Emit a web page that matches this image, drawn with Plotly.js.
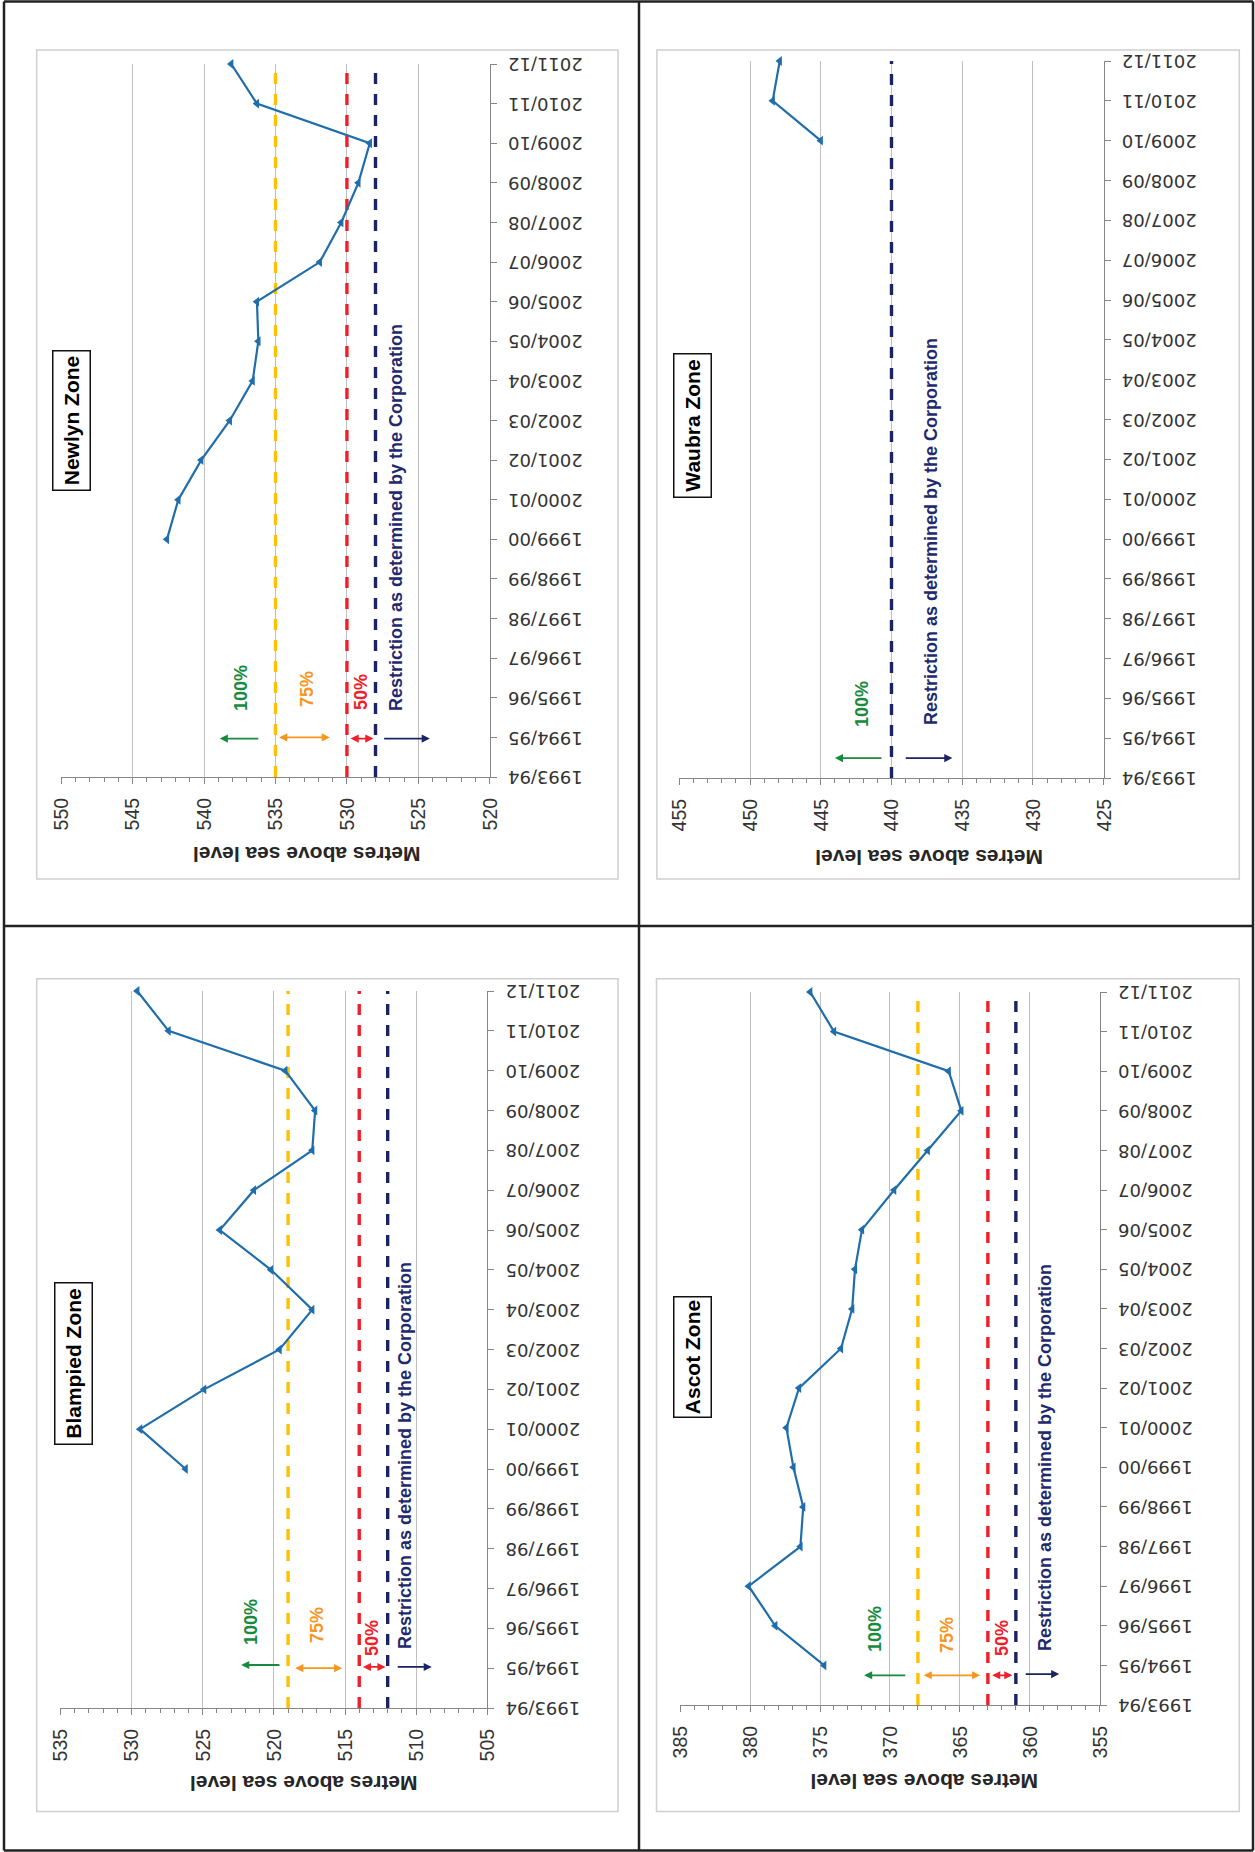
<!DOCTYPE html>
<html>
<head>
<meta charset="utf-8">
<script src="https://cdn.plot.ly/plotly-3.0.1.min.js"></script>
<style>
html,body{margin:0;padding:0;background:#fff;width:1255px;height:1852px;overflow:hidden;}
#wrap{position:absolute;left:0;top:0;width:1852px;height:1255px;transform-origin:0 0;transform:translateY(1852px) rotate(-90deg);}
#chart{width:1852px;height:1255px;}
</style>
</head>
<body>
<div id="wrap"><div id="chart"></div></div>
<script>
// ---------- data ----------
const CATEGORIES = ['1993/94','1994/95','1995/96','1996/97','1997/98','1998/99','1999/00','2000/01','2001/02','2002/03','2003/04','2004/05','2005/06','2006/07','2007/08','2008/09','2009/10','2010/11','2011/12'];

const blampiedYears  = ['1999/00','2000/01','2001/02','2002/03','2003/04','2004/05','2005/06','2006/07','2007/08','2008/09','2009/10','2010/11','2011/12'];
const blampiedLevels = [526.2, 529.4, 524.9, 519.6, 517.3, 520.2, 523.8, 521.4, 517.3, 517.1, 519.2, 527.4, 529.6];
const blampiedLimits = [519, 514, 512];   // 75%, 50%, restriction

const newlynYears  = ['1999/00','2000/01','2001/02','2002/03','2003/04','2004/05','2005/06','2006/07','2007/08','2008/09','2009/10','2010/11','2011/12'];
const newlynLevels = [542.6, 541.8, 540.2, 538.2, 536.6, 536.2, 536.3, 531.9, 530.4, 529.2, 528.4, 536.3, 538.1];
const newlynLimits = [535, 530, 528];

const ascotYears  = ['1994/95','1995/96','1996/97','1997/98','1998/99','1999/00','2000/01','2001/02','2002/03','2003/04','2004/05','2005/06','2006/07','2007/08','2008/09','2009/10','2010/11','2011/12'];
const ascotLevels = [374.7, 378.2, 380.1, 376.4, 376.2, 376.9, 377.4, 376.5, 373.5, 372.7, 372.5, 372.0, 369.7, 367.3, 364.9, 365.8, 374.0, 375.7];
const ascotLimits = [368, 363, 361];

const waubraYears  = ['2009/10','2010/11','2011/12'];
const waubraLevels = [445.0, 448.4, 447.9];
const waubraLimits = [440];

const ZONE_NAMES = ['Blampied Zone','Newlyn Zone','Ascot Zone','Waubra Zone'];
const AXIS_TITLE = 'Metres above sea level';
const RESTRICTION_TEXT = 'Restriction as determined by the Corporation';
const PCT_LABELS = ['100%','75%','50%'];

// ---------- styling ----------
const W = 1852, H = 1255;
const PX = v => v / W, PY = v => 1 - v / H;
const BLUE = '#1f6eab', YELLOW = '#ffc000', RED = '#f0202a', NAVY = '#1b2462', GREEN = '#178a3e', ORANGE = '#f7961e';
const LIMIT_COLORS3 = [YELLOW, RED, NAVY];
const SANS = '"Liberation Sans",Arial,sans-serif';

// panel geometry in (unrotated) pixels: plot area and chart box
const PANELS = [
  {name: ZONE_NAMES[0], years: blampiedYears, levels: blampiedLevels, limits: blampiedLimits, range: [505, 535],
   plot: [144, 861, 60.4, 487.3], box: [40.5, 873.3, 36.7, 618], title: [69, 303.6], label: [488.4, 73.5, 163],
   arrows: {g: [1.08, 519.5, 522.3], o: [1.0, 518.6, 515.2], r: [1.03, 513.85, 512.15], n: [1.03, 511.4, 508.9]},
   pct: [[2.17, 521.6], [2.08, 517.0], [1.75, 513.1]], restr: [1.42, 510.8]},
  {name: ZONE_NAMES[1], years: newlynYears, levels: newlynLevels, limits: newlynLimits, range: [520, 550],
   plot: [1075, 1788, 61.2, 489.8], box: [973, 1802, 36.7, 618], title: [998, 306.6], label: [1431.5, 71.3, 141],
   arrows: {g: [0.97, 536.1, 538.9], o: [1.0, 534.85, 531.2], r: [0.97, 529.85, 528.15], n: [0.97, 527.5, 524.2]},
   pct: [[2.24, 537.4], [2.21, 532.8], [2.14, 529.0]], restr: [1.62, 526.6]},
  {name: ZONE_NAMES[2], years: ascotYears, levels: ascotLevels, limits: ascotLimits, range: [355, 385],
   plot: [147, 860, 680.1, 1099.8], box: [40.5, 873.3, 656.5, 1239.3], title: [70, 924.1], label: [494.8, 692.7, 122],
   arrows: {g: [0.75, 368.8, 371.85], o: [0.75, 367.7, 363.55], r: [0.75, 362.8, 361.25], n: [0.78, 360.4, 357.9]},
   pct: [[1.91, 371.1], [1.76, 365.9], [1.69, 362.0]], restr: [1.31, 358.9]},
  {name: ZONE_NAMES[3], years: waubraYears, levels: waubraLevels, limits: waubraLimits, range: [425, 455],
   plot: [1074, 1791, 679.3, 1103.7], box: [973, 1802, 656.9, 1239.3], title: [995, 928.9], label: [1426.7, 692, 145],
   arrows: {g: [0.5, 440.6, 444.0], n: [0.5, 439.1, 435.7]},
   pct: [[1.86, 442.1]], restr: [1.28, 437.2]}
];

const traces = [], shapes = [], annotations = [];
const layout = {
  width: W, height: H, margin: {l: 0, r: 0, t: 0, b: 0},
  paper_bgcolor: '#fff', plot_bgcolor: 'rgba(0,0,0,0)', showlegend: false,
  font: {family: 'DejaVu Sans', color: '#333'}
};

PANELS.forEach((p, i) => {
  const n = i + 1, sx = n === 1 ? '' : String(n);
  const xa = 'x' + sx, ya = 'y' + sx;
  const [x0, x1, y0, y1] = p.plot;
  layout['xaxis' + sx] = {
    domain: [PX(x0), PX(x1)], anchor: ya, type: 'category', categoryorder: 'array', categoryarray: CATEGORIES,
    range: [0, CATEGORIES.length - 1], showgrid: false, zeroline: false, showline: true, linecolor: '#868686', linewidth: 1,
    ticks: 'outside', ticklen: 6, tickcolor: '#868686', tickangle: -90, ticklabelstandoff: 4,
    tickfont: {family: 'DejaVu Sans', size: 18, color: '#333'}, fixedrange: true
  };
  layout['yaxis' + sx] = {
    domain: [PY(y1), PY(y0)], anchor: xa, range: p.range, dtick: 5, tick0: 0,
    showgrid: true, gridcolor: '#c0c0c0', gridwidth: 1, zeroline: false, showline: true, linecolor: '#868686', linewidth: 1,
    ticks: 'outside', ticklen: 6, tickcolor: '#868686', ticklabelstandoff: 10,
    minor: {dtick: 1, ticks: 'outside', ticklen: 4, tickcolor: '#868686', showgrid: false},
    tickfont: {family: SANS, size: 19.5, color: '#333'}, fixedrange: true
  };
  // limit lines
  const cols = p.limits.length === 1 ? [NAVY] : LIMIT_COLORS3;
  p.limits.forEach((v, k) => {
    traces.push({x: [CATEGORIES[0], CATEGORIES[CATEGORIES.length - 1]], y: [v, v], xaxis: xa, yaxis: ya,
      mode: 'lines', line: {color: cols[k], width: 3.4, dash: '11px,10px'}, hoverinfo: 'skip'});
  });
  // data series
  traces.push({x: p.years, y: p.levels, xaxis: xa, yaxis: ya, mode: 'lines+markers', cliponaxis: false,
    line: {color: BLUE, width: 2.2}, marker: {symbol: 'triangle-up', size: 8.5, color: BLUE}, name: p.name});
  // chart box
  shapes.push({type: 'rect', xref: 'paper', yref: 'paper', x0: PX(p.box[0]), x1: PX(p.box[1]), y0: PY(p.box[3]), y1: PY(p.box[2]),
    line: {color: '#d0d0d0', width: 1.5}, layer: 'below'});
  // axis title
  annotations.push({xref: 'paper', yref: 'paper', x: PX(p.title[0]), y: PY(p.title[1]), text: '<b>' + AXIS_TITLE + '</b>',
    textangle: -90, showarrow: false, xanchor: 'center', yanchor: 'middle',
    font: {family: SANS, size: 21, color: '#262626'}});
  // zone label
  annotations.push({xref: 'paper', yref: 'paper', x: PX(p.label[0]), y: PY(p.label[1]), text: '<b>' + p.name + '</b>',
    showarrow: false, xanchor: 'center', yanchor: 'middle', width: p.label[2] - 3, height: 36, borderpad: 0,
    bordercolor: '#111', borderwidth: 1.5, bgcolor: '#fff', font: {family: SANS, size: 21, color: '#000'}});
  // arrows
  const arr = (a, col, both) => {
    const [c, v1, v2] = a;
    annotations.push({xref: xa, yref: ya, axref: xa, ayref: ya, x: c, y: v2, ax: c, ay: v1, text: '', showarrow: true,
      arrowhead: 2, arrowsize: 0.9, arrowwidth: 1.8, arrowcolor: col, arrowside: both ? 'end+start' : 'end', standoff: 0, startstandoff: 0});
  };
  if (p.arrows.g) arr(p.arrows.g, GREEN, false);
  if (p.arrows.o) arr(p.arrows.o, ORANGE, true);
  if (p.arrows.r) arr(p.arrows.r, RED, true);
  if (p.arrows.n) arr(p.arrows.n, NAVY, false);
  const pctCols = [GREEN, ORANGE, RED];
  p.pct.forEach((q, k) => {
    annotations.push({xref: xa, yref: ya, x: q[0], y: q[1], text: '<b>' + PCT_LABELS[k] + '</b>', showarrow: false,
      xanchor: 'center', yanchor: 'middle', font: {family: SANS, size: 18, color: pctCols[k]}});
  });
  annotations.push({xref: xa, yref: ya, x: p.restr[0], y: p.restr[1], text: '<b>' + RESTRICTION_TEXT + '</b>', showarrow: false,
    xanchor: 'left', yanchor: 'middle', font: {family: SANS, size: 18, color: '#1f2a6e'}});
});

// table grid lines (unrotated pixel coords)
const gridLine = (xa0, ya0, xa1, ya1) => shapes.push({type: 'line', xref: 'paper', yref: 'paper',
  x0: PX(xa0), y0: PY(ya0), x1: PX(xa1), y1: PY(ya1), line: {color: '#222', width: 2.5}});
gridLine(1.5, 4, 1850.5, 4);
gridLine(1.5, 1253, 1850.5, 1253);
gridLine(1.5, 4, 1.5, 1253);
gridLine(1850.5, 4, 1850.5, 1253);
gridLine(926, 4, 926, 1253);
gridLine(1.5, 639, 1850.5, 639);

layout.shapes = shapes;
layout.annotations = annotations;
Plotly.newPlot('chart', traces, layout, {staticPlot: true, displayModeBar: false});
</script>
</body>
</html>
